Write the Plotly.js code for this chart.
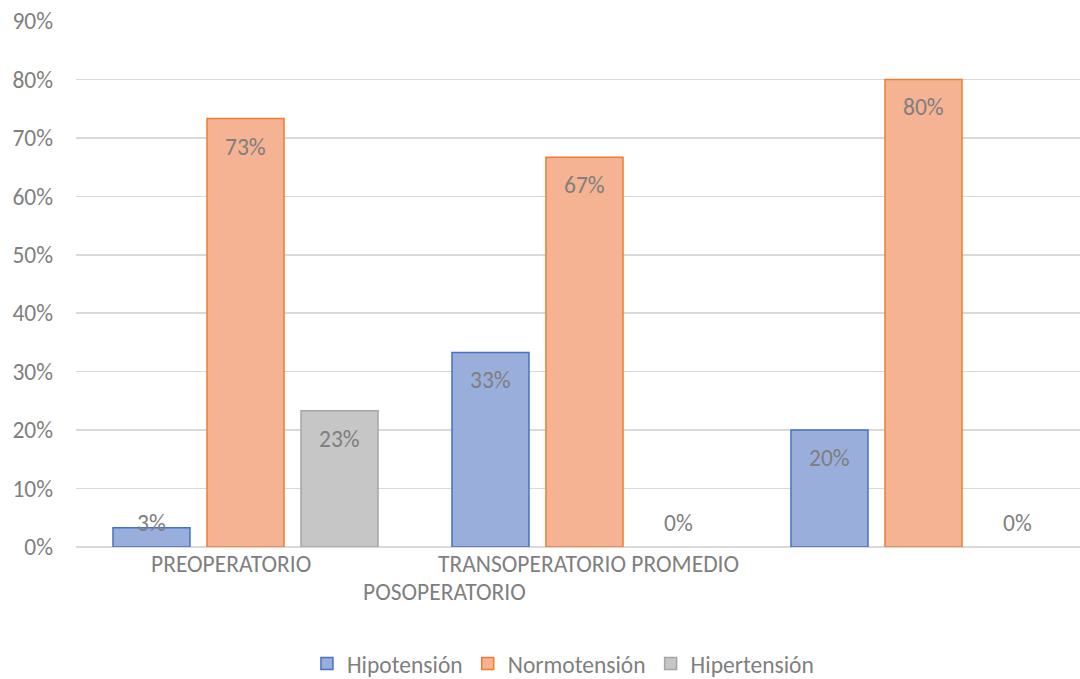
<!DOCTYPE html>
<html>
<head>
<meta charset="utf-8">
<script src="https://cdn.plot.ly/plotly-3.0.1.min.js"></script>
<style>html,body{margin:0;padding:0;background:#fff;}#chart{width:1080px;height:679px;}</style>
</head>
<body>
<div id="chart"></div>
<script>
const categories = ["PREOPERATORIO", "TRANSOPERATORIO", "POSOPERATORIO"];
const seriesNames = ["Hipotensión", "Normotensión", "Hipertensión"];
const hipotension = [0.033, 0.333, 0.20];
const normotension = [0.733, 0.667, 0.80];
const hipertension = [0.233, 0.0, 0.0];
const axisLabels = ["PREOPERATORIO", "TRANSOPERATORIO PROMEDIO", "POSOPERATORIO"];
const yTickVals = [0, 0.1, 0.2, 0.3, 0.4, 0.5, 0.6, 0.7, 0.8, 0.9];
const yTickText = ["0%", "10%", "20%", "30%", "40%", "50%", "60%", "70%", "80%", "90%"];

const FONT = "Carlito, Lato, 'Liberation Sans', sans-serif";
const FS = 23.5;
const GRAY = "#7f7f7f";
const fills = ["#9aaedb", "#f5b393", "#c6c6c6"];
const lines = ["#4472c4", "#ed7d31", "#a5a5a5"];
const allSeries = [hipotension, normotension, hipertension];

const traces = allSeries.map((vals, i) => ({
  type: "bar",
  name: seriesNames[i],
  x: categories,
  y: vals,
  marker: {color: fills[i], line: {color: lines[i], width: vals.map(v => v > 0 ? 1.5 : 0)}},
  hoverinfo: "skip"
}));

const plotTop = 21, plotBottom = 547, yMax = 0.9;
const pxPerUnit = (plotBottom - plotTop) / yMax;
const slotPx = 94;
const annotations = [];
allSeries.forEach((vals, i) => {
  vals.forEach((v, j) => {
    const py = plotBottom - v * pxPerUnit;
    const center = Math.min(py + 28, plotBottom - 24);
    annotations.push({
      x: j, y: v, xref: "x", yref: "y",
      xshift: (i - 1) * slotPx, yshift: -(center - py),
      text: Math.round(v * 100) + "%", showarrow: false,
      xanchor: "center", yanchor: "middle",
      font: {family: FONT, size: FS, color: GRAY}
    });
  });
});
const labelPos = [[-0.043, 564], [1.013, 564], [0.588, 592]];
axisLabels.forEach((t, k) => {
  annotations.push({
    x: labelPos[k][0], y: 0, xref: "x", yref: "y",
    yshift: -(labelPos[k][1] - plotBottom),
    text: t, showarrow: false, xanchor: "center", yanchor: "middle",
    font: {family: FONT, size: FS, color: GRAY}
  });
});

const layout = {
  width: 1080, height: 679,
  margin: {l: 76, r: 0, t: 21, b: 132, autoexpand: false},
  paper_bgcolor: "#ffffff", plot_bgcolor: "#ffffff",
  barmode: "group", bargap: 0.168, bargroupgap: 0.181,
  font: {family: FONT, size: FS, color: GRAY},
  xaxis: {type: "category", range: [-0.5, 2.4617], showticklabels: false,
          showgrid: false, zeroline: false, showline: false, ticks: "", fixedrange: true},
  yaxis: {range: [0, 0.9], tickvals: yTickVals, ticktext: yTickText,
          showgrid: true, gridcolor: "#d9d9d9", gridwidth: 1.5,
          zeroline: true, zerolinecolor: "#d9d9d9", zerolinewidth: 1.5,
          showline: false, ticks: "", ticklabelstandoff: 22,
          tickfont: {family: FONT, size: FS, color: GRAY}, fixedrange: true},
  showlegend: true,
  legend: {orientation: "h", x: 0.485, xanchor: "center", y: -0.222, yanchor: "middle",
           font: {family: FONT, size: FS, color: GRAY}, itemclick: false,
           tracegroupgap: 0, itemwidth: 30},
  annotations: annotations
};

Plotly.newPlot("chart", traces, layout, {displayModeBar: false, staticPlot: true});
</script>
</body>
</html>
